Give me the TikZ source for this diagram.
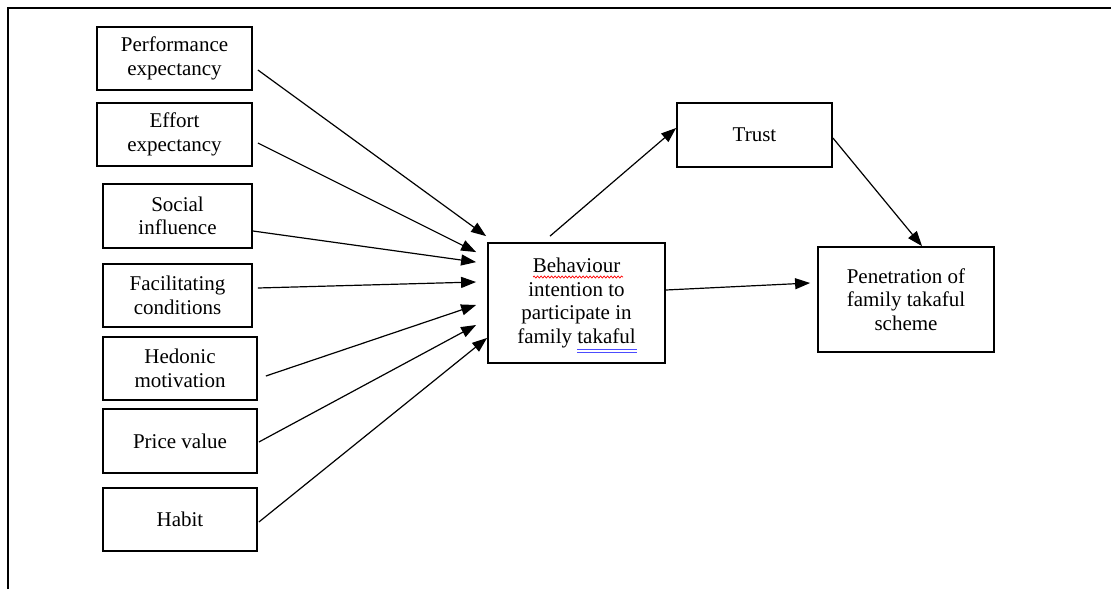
\documentclass[tikz,border=0pt]{standalone}
\usepackage{fontspec}
\setmainfont{Liberation Serif}
\usetikzlibrary{arrows.meta,decorations.pathmorphing}
\begin{document}
\begin{tikzpicture}[x=1pt,y=-1pt,
  box/.style={draw,line width=1.8pt,inner sep=0pt,align=center,
    font=\fontsize{21}{23.5}\selectfont},
  arr/.style={line width=1.2pt,-{Triangle[length=15pt,width=11pt]}},
  spellred/.style={red,line width=0.7pt,decorate,decoration={snake,amplitude=1pt,segment length=3.5pt}},
  spellblue/.style={blue!70!white,line width=0.8pt}]
\useasboundingbox (0,0) rectangle (1111,589);
\draw[line width=2pt] (8,589) -- (8,8) -- (1111,8);
\node[box,minimum width=155pt,minimum height=63pt] (pe) at (174.5,58.5) {Performance\\expectancy};
\node[box,minimum width=155pt,minimum height=63pt] (ee) at (174.5,134.5) {Effort\\expectancy};
\node[box,minimum width=149pt,minimum height=64pt] (si) at (177.5,216) {Social\\influence};
\node[box,minimum width=149pt,minimum height=63pt] (fc) at (177.5,295.5) {Facilitating\\conditions};
\node[box,minimum width=154pt,minimum height=63pt] (hm) at (180,368.5) {Hedonic\\motivation};
\node[box,minimum width=154pt,minimum height=64pt] (pv) at (180,441) {Price value};
\node[box,minimum width=154pt,minimum height=63pt] (hb) at (180,519.5) {Habit};
\node[box,minimum width=177pt,minimum height=120pt] (bi) at (576.5,303)
  {Behaviour\\intention to\\participate in\\family takaful};
\node[box,minimum width=155pt,minimum height=64pt] (tr) at (754.5,135) {Trust};
\node[box,minimum width=176pt,minimum height=105pt] (pn) at (906,299.5) {Penetration of\\family takaful\\scheme};
\draw[spellred] ([shift={(-43.5,-26)}]bi.center) -- ([shift={(46.5,-26)}]bi.center);
\draw[spellblue] ([shift={(0.5,46.5)}]bi.center) -- ([shift={(60,46.5)}]bi.center);
\draw[spellblue] ([shift={(0.5,49)}]bi.center) -- ([shift={(60,49)}]bi.center);
\draw[arr] ([shift={(5,11.5)}]pe.east) -- ([shift={(-1,-6)}]bi.north west);
\draw[arr] ([shift={(5,8.5)}]ee.east) -- ([shift={(-11,10)}]bi.north west);
\draw[arr] ([shift={(0,15)}]si.east) -- ([shift={(-11,20)}]bi.north west);
\draw[arr] ([shift={(5,-7.5)}]fc.east) -- ([shift={(-11,-21)}]bi.west);
\draw[arr] ([shift={(8,7.5)}]hm.east) -- ([shift={(-11,2)}]bi.west);
\draw[arr] ([shift={(1,1)}]pv.east) -- ([shift={(-11,22)}]bi.west);
\draw[arr] ([shift={(1,2.5)}]hb.east) -- ([shift={(0,-26)}]bi.south west);
\draw[arr] ([shift={(-26.5,-6)}]bi.north) -- ([shift={(0,-7)}]tr.west);
\draw[arr] ([shift={(0,3)}]tr.east) -- ([shift={(16,0)}]pn.north);
\draw[arr] ([shift={(0,-13)}]bi.east) -- ([shift={(-7,-16.5)}]pn.west);
\end{tikzpicture}
\end{document}
